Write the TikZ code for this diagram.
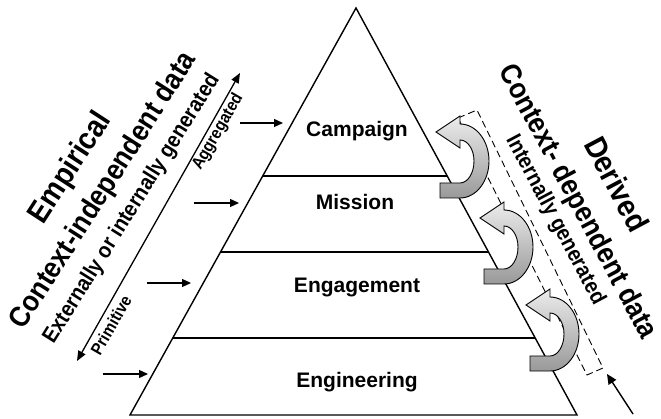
\documentclass[tikz,border=0pt]{standalone}
\usepackage{fontspec}
\setmainfont{Liberation Sans}
\usetikzlibrary{arrows.meta}
\tikzset{
  edge/.style={line width=1.4pt},
  feed/.style={line width=1.3pt,-{Triangle[length=9pt,width=8pt]}},
  level/.style={font=\bfseries\fontsize{21}{23}\selectfont,anchor=base},
  rtext/.style={font=\bfseries\fontsize{#1}{#1}\selectfont,xscale=0.9,inner sep=0pt},
  curl/.style={draw=black,line width=0.9pt,top color=gray!15,bottom color=gray!80},
  curlarrow/.pic={
    \path[curl] (-20,37) -- (0,37) .. controls (16,37) and (29,20.4) .. (29,0)
      .. controls (29,-20.4) and (16,-37) .. (0,-37) -- (0,-45) -- (-24,-29) -- (0,-13) -- (0,-21)
      .. controls (7.7,-21) and (14,-11.6) .. (14,0) .. controls (14,12.2) and (7.7,22) .. (0,22)
      -- (-20,22) -- cycle;
  }
}
\begin{document}
\begin{tikzpicture}[x=1pt,y=-1pt]
\useasboundingbox (0,0) rectangle (661,419);
% pyramid
\coordinate (apex) at (356,8);
\coordinate (bl) at (130,415);
\coordinate (br) at (577,415);
\draw[edge,line join=miter] (apex) -- (bl) -- (br) -- cycle;
\coordinate (l1) at (262.7,176); \coordinate (r1) at (447.2,176);
\coordinate (l2) at (220.5,252); \coordinate (r2) at (488.5,252);
\coordinate (l3) at (172.8,338); \coordinate (r3) at (535.2,338);
\draw[edge] (l1) -- (r1);
\draw[edge] (l2) -- (r2);
\draw[edge] (l3) -- (r3);
% level labels
\node[level] (camp) at (357,137) {Campaign};
\node[level] (miss) at (355,210) {Mission};
\node[level] (enga) at (357,293) {Engagement};
\node[level] (engi) at (357,387) {Engineering};
% input arrows
\coordinate (a1s) at (240,123); \coordinate (a1e) at (283,123);
\coordinate (a2s) at (194,203); \coordinate (a2e) at (239,203);
\coordinate (a3s) at (147,283); \coordinate (a3e) at (191,283);
\coordinate (a4s) at (103,374); \coordinate (a4e) at (148,374);
\draw[feed] (a1s) -- (a1e);
\draw[feed] (a2s) -- (a2e);
\draw[feed] (a3s) -- (a3e);
\draw[feed] (a4s) -- (a4e);
% diagonal double arrow
\coordinate (dlo) at (77,361);
\coordinate (dhi) at (240,73);
\draw[line width=1.3pt,{Triangle[length=10pt,width=8pt]}-{Triangle[length=10pt,width=8pt]}] (dlo) -- (dhi);
% left texts
\node[rotate=57,rtext=31] (emp) at (71,168) {Empirical};
\node[rotate=57.5,rtext=29] (cid) at (104,191) {Context-independent data};
\node[rotate=58,rtext=22] (ext) at (132,209) {Externally or internally generated};
\node[rotate=60,rtext=17] (agg) at (218,132) {Aggregated};
\node[rotate=60,rtext=17] (prim) at (111,325) {Primitive};
% right texts
\node[rotate=-62,rtext=31] (der) at (617,184) {Derived};
\node[rotate=-62,rtext=29] (cdd) at (577,202) {Context- dependent data};
\node[rotate=-62,rtext=22] (intg) at (555,220) {Internally generated};
% dashed box
\coordinate (d1) at (458,118); \coordinate (d2) at (477,110);
\coordinate (d3) at (603,368); \coordinate (d4) at (587,375);
\draw[line width=0.9pt,dash pattern=on 7pt off 4pt] (d1) -- (d2) -- (d3) -- (d4) -- cycle;
% bottom right arrow
\coordinate (bra) at (633,414);
\coordinate (brb) at (607,374);
\draw[line width=1.4pt,-{Triangle[length=10pt,width=9pt]}] (bra) -- (brb);
% curl arrows
\pic (c1) at (460,161) {curlarrow};
\pic (c2) at (504,247) {curlarrow};
\pic (c3) at (550,334) {curlarrow};
\end{tikzpicture}
\end{document}
